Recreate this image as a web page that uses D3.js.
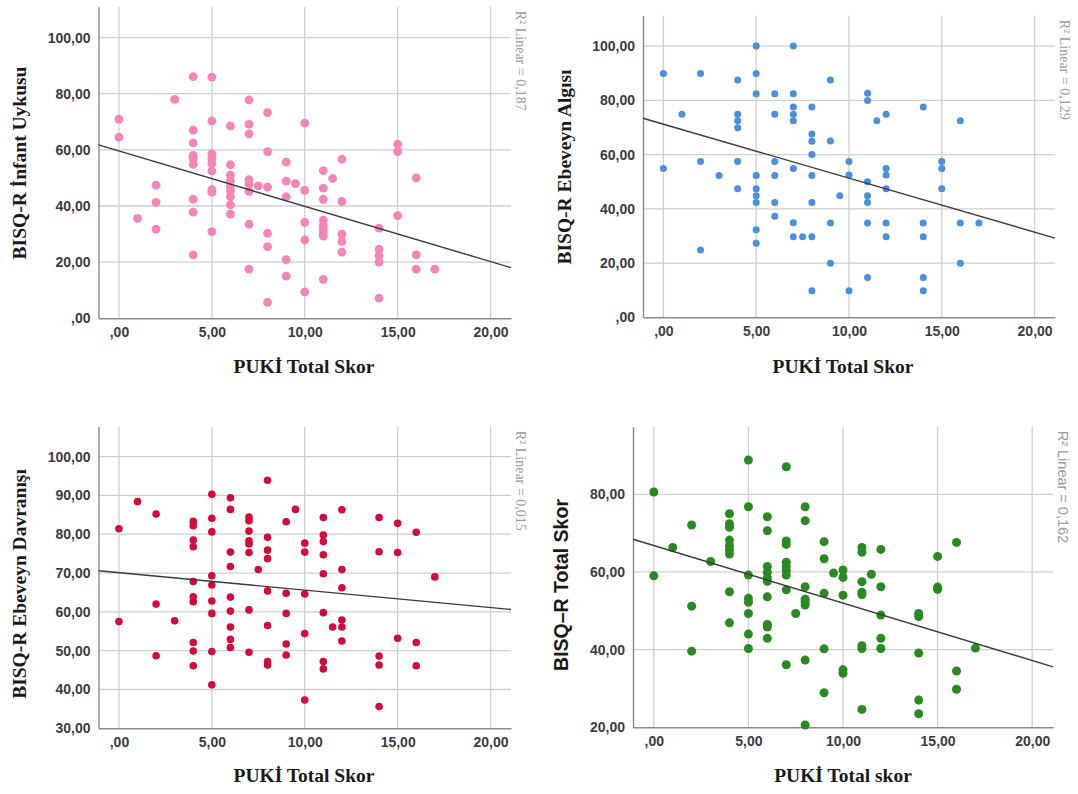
<!DOCTYPE html>
<html><head><meta charset="utf-8">
<script src="https://cdn.jsdelivr.net/npm/d3@7"></script>
<style>body{margin:0;background:#fff}</style>
</head><body>
<svg id="c" width="1078" height="794"></svg>
<script>
// ---------- DATA ----------
const xTickValues = [0, 5, 10, 15, 20];
const yTicksInfant = [0, 20, 40, 60, 80, 100];
const yTicksAlgi = [0, 20, 40, 60, 80, 100];
const yTicksDavranis = [30, 40, 50, 60, 70, 80, 90, 100];
const yTicksTotal = [20, 40, 60, 80];

const titlesY = ["BISQ-R İnfant Uykusu", "BISQ-R Ebeveyn Algısı", "BISQ-R Ebeveyn Davranışı", "BISQ–R Total Skor"];
const titlesX = ["PUKİ Total Skor", "PUKİ Total Skor", "PUKİ Total Skor", "PUKİ Total skor"];
const r2Labels = ["R² Linear = 0,187", "R² Linear = 0,129", "R² Linear = 0,015", "R² Linear = 0,162"];
const fitIntercepts = [59.6, 71.2, 70.1, 66.8];
const fitSlopes = [-1.97, -1.99, -0.45, -1.48];

const infantX = [0,0, 1, 2,2,2, 3,
  4,4,4,4,4,4,4,4,4,
  5,5,5,5,5,5,5,5,5,
  6,6,6,6,6,6,6,6,6,
  7,7,7,7,7,7,7,7, 7.5,
  8,8,8,8,8,8,
  9,9,9,9,9, 9.5,
  10,10,10,10,10,
  11,11,11,11,11,11,11,11,11, 11.5,
  12,12,12,12,12,
  14,14,14,14,14,
  15,15,15, 16,16,16, 17];
const infantY = [70.9,64.5, 35.6, 47.4,41.3,31.8, 78.0,
  86.1,67.0,62.5,58.0,56.8,54.8,42.4,37.8,22.6,
  85.9,70.3,58.6,56.9,55.2,52.5,45.8,44.9,30.9,
  68.5,54.7,51.0,49.0,46.9,45.4,43.3,40.4,37.1,
  77.8,69.1,65.7,49.4,47.8,45.2,33.5,17.5, 47.2,
  73.3,59.4,46.7,30.3,25.5,5.7,
  55.6,48.9,43.3,20.9,15.0, 48.0,
  69.5,45.6,34.2,27.9,9.4,
  52.6,46.4,42.4,35.0,33.2,31.8,30.5,29.3,13.9, 49.8,
  56.7,41.6,30.0,27.4,23.6,
  32.1,24.6,22.3,20.0,7.2,
  62.0,59.4,36.6, 50.0,22.6,17.5, 17.5];

const algiX = [0,0, 1, 2,2,2, 3,
  4,4,4,4,4,4,
  5,5,5,5,5,5,5,5,5,
  6,6,6,6,6,6,
  7,7,7,7,7,7,7,7, 7.5,
  8,8,8,8,8,8,8,8,
  9,9,9,9, 9.5,
  10,10,10,
  11,11,11,11,11,11,11, 11.5,
  12,12,12,12,12,12,
  14,14,14,14,14,
  15,15,15, 16,16,16, 17];
const algiY = [89.9,54.9, 74.9, 89.9,57.4,24.8, 52.3,
  87.5,74.9,72.5,69.9,57.4,47.4,
  100,89.9,82.4,52.3,47.4,44.8,42.3,32.3,27.3,
  82.4,74.9,57.4,52.3,42.3,37.3,
  100,82.4,77.5,74.9,72.5,54.9,34.9,29.7, 29.7,
  77.5,67.6,64.9,60.0,52.3,42.3,29.7,9.8,
  87.5,65.0,34.8,19.9, 44.8,
  57.4,52.5,9.8,
  82.6,79.9,50.0,44.8,42.3,34.8,14.7, 72.5,
  74.9,54.9,52.5,47.4,34.8,29.7,
  77.5,34.8,29.7,14.7,9.8,
  57.4,54.9,47.4, 72.5,34.8,19.9, 34.8];

const davranisX = [0,0, 1, 2,2,2, 3,
  4,4,4,4,4,4,4,4,4,4,
  5,5,5,5,5,5,5,5,5,
  6,6,6,6,6,6,6,6,6,
  7,7,7,7,7,7,7,7, 7.5,
  8,8,8,8,8,8,8,8,
  9,9,9,9,9, 9.5,
  10,10,10,10,10,
  11,11,11,11,11,11,11,11, 11.5,
  12,12,12,12,12,12,
  14,14,14,14,14,
  15,15,15, 16,16,16, 17];
const davranisY = [81.4,57.5, 88.4, 85.2,62.0,48.7, 57.7,
  83.3,82.2,78.5,76.8,67.8,63.9,62.6,52.1,49.9,46.1,
  90.3,84.1,80.6,69.3,66.9,62.8,59.6,49.8,41.2,
  89.4,86.4,75.4,71.7,63.8,60.2,56.1,52.9,50.8,
  84.4,83.5,80.8,78.3,77.5,75.3,60.5,49.6, 70.9,
  93.9,79.2,75.9,73.7,65.4,56.5,47.2,46.3,
  83.2,64.8,59.6,51.7,48.9, 86.4,
  77.7,75.4,64.6,54.4,37.3,
  84.3,79.8,78.1,74.7,69.8,59.8,47.2,45.3, 56.1,
  86.3,70.9,66.2,57.9,56.1,52.5,
  84.3,75.5,48.6,46.3,35.6,
  82.8,75.3,53.2, 80.5,52.1,46.1, 69.0];

const totalX = [0,0, 1, 2,2,2, 3,
  4,4,4,4,4,4,4,4,4,
  5,5,5,5,5,5,5,5,
  6,6,6,6,6,6,6,6,6,6,
  7,7,7,7,7,7,7,7,7, 7.5,
  8,8,8,8,8,8,8,8,
  9,9,9,9,9, 9.5,
  10,10,10,10,10,
  11,11,11,11,11,11,11,11, 11.5,
  12,12,12,12,12,
  14,14,14,14,14,
  15,15,15, 16,16,16, 17];
const totalY = [80.6,59.0, 66.3, 72.1,51.2,39.6, 62.7,
  75.0,72.4,71.5,68.2,66.8,65.7,64.6,54.9,46.9,
  88.8,76.8,59.2,53.2,52.2,49.3,44.0,40.3,
  74.2,70.6,61.4,59.9,58.5,57.6,53.6,46.5,45.8,42.9,
  87.1,68.0,67.1,62.5,61.4,60.3,59.2,55.4,36.1, 49.3,
  76.8,73.2,56.2,53.0,52.3,51.5,37.3,20.6,
  67.8,63.4,54.5,40.2,28.9, 59.7,
  60.5,58.6,54.0,34.8,33.9,
  66.3,65.1,57.5,54.8,54.2,41.0,40.3,24.6, 59.4,
  65.8,56.2,48.9,42.9,40.3,
  49.3,48.5,39.1,27.0,23.5,
  64.0,56.1,55.5, 67.6,34.5,29.8, 40.4];

// ---------- LAYOUT ----------
const panels = [
  {xs: infantX, ys: infantY, yTicks: yTicksInfant, left: 98.5, right: 511, top: 6.7, bottom: 318.3,
   xDomain: [-1.1, 21.1], yDomain: [0, 111], color: "#f784b6", r: 4.4,
   yTitleX: 26, yTitleY: 163, xTitleY: 373, xTitleX: 304, yTitleFont: "serif", r2Font: "serif"},
  {xs: algiX, ys: algiY, yTicks: yTicksAlgi, left: 643, right: 1055, top: 15.7, bottom: 317.3,
   xDomain: [-1.1, 21.1], yDomain: [0, 111.2], color: "#4a8fe0", r: 3.5,
   yTitleX: 571, yTitleY: 167, xTitleY: 373, xTitleX: 843, yTitleFont: "serif", r2Font: "serif"},
  {xs: davranisX, ys: davranisY, yTicks: yTicksDavranis, left: 98.5, right: 511, top: 426.7, bottom: 728.3,
   xDomain: [-1.1, 21.1], yDomain: [30, 107.7], color: "#d40a3c", r: 3.8,
   yTitleX: 26, yTitleY: 584, xTitleY: 782, xTitleX: 304, yTitleFont: "serif", r2Font: "serif"},
  {xs: totalX, ys: totalY, yTicks: yTicksTotal, left: 633, right: 1053, top: 426.7, bottom: 727.3,
   xDomain: [-1.1, 21.1], yDomain: [20, 97.4], color: "#2a8a22", r: 4.5,
   yTitleX: 568, yTitleY: 585, xTitleY: 782, xTitleX: 843, yTitleFont: "sans", r2Font: "sans"}
];

const svg = d3.select("#c");
const fmt = d => (d === 0 ? "" : String(d)) + ",00";
const SERIF = "'Liberation Serif','Times New Roman',serif";
const SANS = "'Liberation Sans',Arial,sans-serif";

panels.forEach((p, i) => {
  const x = d3.scaleLinear().domain(p.xDomain).range([p.left, p.right]);
  const y = d3.scaleLinear().domain(p.yDomain).range([p.bottom, p.top]);
  const g = svg.append("g");

  // gridlines
  g.selectAll("line.vg").data(xTickValues).join("line")
    .attr("x1", d => x(d)).attr("x2", d => x(d))
    .attr("y1", p.top).attr("y2", p.bottom)
    .attr("stroke", "#cfcfcf").attr("stroke-width", 1.3);
  g.selectAll("line.hg").data(p.yTicks.filter(d => d !== p.yDomain[0])).join("line")
    .attr("x1", p.left).attr("x2", p.right)
    .attr("y1", d => y(d)).attr("y2", d => y(d))
    .attr("stroke", "#cfcfcf").attr("stroke-width", 1.3);

  // axes (no tick marks, SPSS style)
  const xAxis = d3.axisBottom(x).tickValues(xTickValues).tickFormat(fmt).tickSize(0).tickPadding(9);
  const yAxis = d3.axisLeft(y).tickValues(p.yTicks).tickFormat(fmt).tickSize(0).tickPadding(8);
  const gx = g.append("g").attr("transform", `translate(0,${p.bottom})`).call(xAxis);
  const gy = g.append("g").attr("transform", `translate(${p.left},0)`).call(yAxis);
  [gx, gy].forEach(a => {
    a.select(".domain").attr("stroke", "#8a8a8a").attr("stroke-width", 1.4);
    a.selectAll("text").attr("font-family", SANS).attr("font-size", 14)
      .attr("font-weight", "bold").attr("fill", "#3c3c3c");
  });

  // points
  g.selectAll("circle").data(p.xs.map((v, k) => [v, p.ys[k]])).join("circle")
    .attr("cx", d => x(d[0])).attr("cy", d => y(d[1])).attr("r", p.r)
    .attr("fill", p.color);

  // fit line
  const xd = p.xDomain;
  g.append("line")
    .attr("x1", x(xd[0])).attr("y1", y(fitIntercepts[i] + fitSlopes[i] * xd[0]))
    .attr("x2", x(xd[1])).attr("y2", y(fitIntercepts[i] + fitSlopes[i] * xd[1]))
    .attr("stroke", "#3a3a3a").attr("stroke-width", 1.4);

  // R² label
  g.append("text")
    .attr("transform", `translate(${p.right + 5},${p.top + 4}) rotate(90)`)
    .attr("font-family", p.r2Font === "serif" ? SERIF : SANS)
    .attr("font-size", p.r2Font === "serif" ? 14 : 14.5)
    .attr("fill", "#9c9c9c").text(r2Labels[i]);

  // axis titles
  g.append("text")
    .attr("x", p.xTitleX).attr("y", p.xTitleY).attr("text-anchor", "middle")
    .attr("font-family", SERIF).attr("font-weight", "bold").attr("font-size", 19.5)
    .attr("fill", "#1a1a1a").text(titlesX[i]);
  g.append("text")
    .attr("transform", `translate(${p.yTitleX},${p.yTitleY}) rotate(-90)`)
    .attr("text-anchor", "middle")
    .attr("font-family", p.yTitleFont === "serif" ? SERIF : SANS)
    .attr("font-weight", "bold").attr("font-size", p.yTitleFont === "serif" ? 19.5 : 19.5)
    .attr("fill", "#1a1a1a").text(titlesY[i]);
});
</script>
</body></html>
